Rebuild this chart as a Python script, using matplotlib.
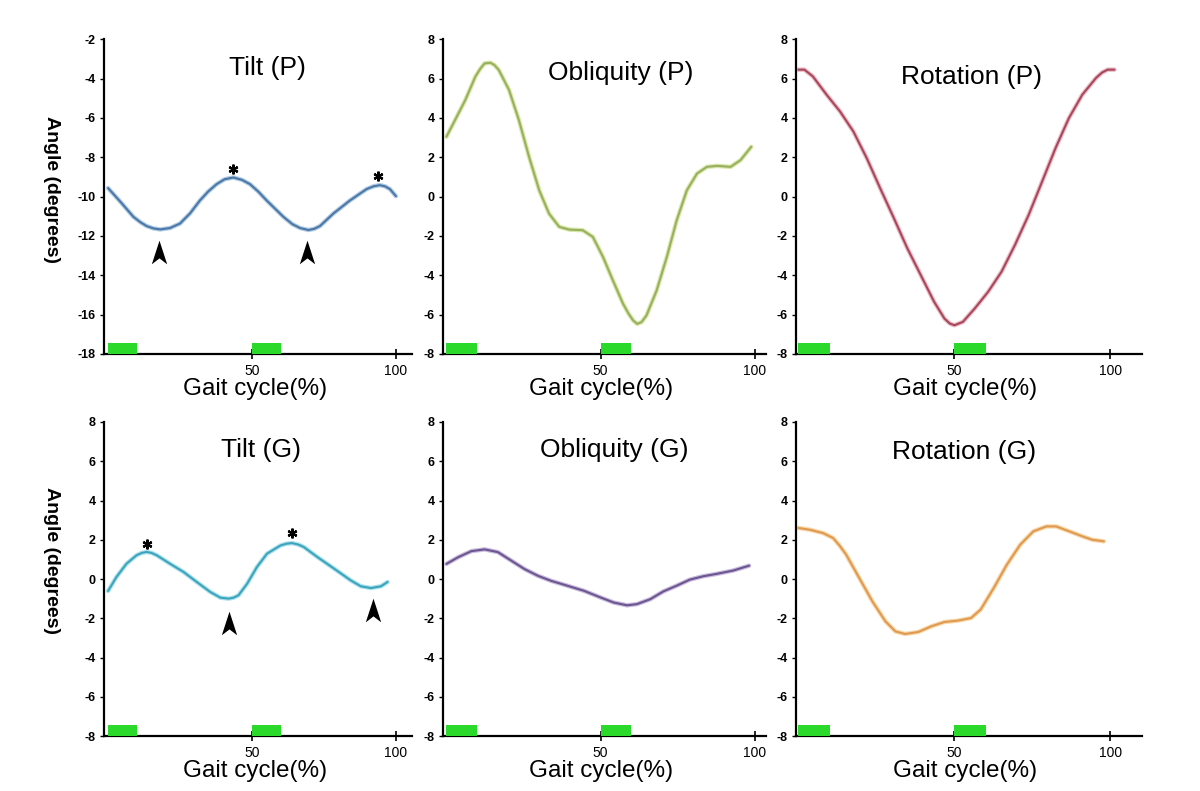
import matplotlib
matplotlib.use('Agg')
import matplotlib.pyplot as plt
from matplotlib.path import Path

plt.rcParams['font.family'] = ['Liberation Sans', 'DejaVu Sans']
plt.rcParams['axes.unicode_minus'] = False

# --- values (gait cycle %, angle in degrees) ---
tilt_p_x = [0, 4.5, 8.8, 11.2, 13.4, 15.8, 18.1, 21.5, 25, 28.5, 31.9, 34.8, 37.7, 40.5,
            43.5, 46.5, 49.3, 52.2, 55.1, 60.9, 64, 66.7, 69.6, 71.6, 73.6, 78.2, 84, 89.8,
            92.2, 94.4, 96.2, 97.9, 100]
tilt_p_y = [-9.57, -10.3, -11.03, -11.3, -11.5, -11.62, -11.67, -11.6, -11.37, -10.85, -10.2,
            -9.74, -9.37, -9.12, -9.03, -9.15, -9.37, -9.75, -10.2, -11.03, -11.4, -11.6,
            -11.7, -11.64, -11.5, -10.87, -10.2, -9.62, -9.48, -9.42, -9.48, -9.62, -9.98]

obl_p_x = [0, 2.8, 6.1, 9.4, 11, 12.4, 14.3, 15.6, 17, 20.3, 23.5, 26.8, 30.1, 33.3, 36.6,
           39.9, 44.2, 47.5, 50.8, 54, 57.3, 59.2, 60.6, 61.9, 63.3, 64.9, 68.2, 71.5, 74.7,
           78, 81.3, 84.5, 87.8, 92.2, 95.4, 98.9]
obl_p_y = [3.04, 3.89, 4.9, 6.1, 6.5, 6.77, 6.8, 6.68, 6.43, 5.42, 3.89, 2.02, 0.32, -0.87,
           -1.54, -1.68, -1.71, -2.05, -3.07, -4.26, -5.45, -5.98, -6.3, -6.47, -6.38, -6.04,
           -4.77, -3.07, -1.21, 0.32, 1.17, 1.51, 1.56, 1.51, 1.85, 2.53]

rot_p_x = [0, 1.9, 4.6, 9, 13.3, 17.6, 21.9, 26.2, 30.6, 34.9, 39.2, 43.5, 46.8, 48.5, 50,
           52.7, 56.5, 60.8, 65.1, 69.4, 73.8, 78.1, 82.4, 86.7, 91, 95.4, 97.3, 99.1, 101.3]
rot_p_y = [6.45, 6.45, 6.11, 5.18, 4.33, 3.31, 1.95, 0.42, -1.1, -2.63, -3.99, -5.35, -6.2,
           -6.45, -6.54, -6.37, -5.69, -4.84, -3.82, -2.46, -0.93, 0.76, 2.46, 3.99, 5.18,
           6.03, 6.3, 6.45, 6.45]

tilt_g_x = [0, 2.9, 6.4, 9.9, 11.7, 13.4, 15.1, 16.9, 21.5, 26.2, 30.8, 35.5, 39, 41.9, 43.6,
            45.3, 48.3, 51.7, 55.2, 59.9, 62, 63.9, 66, 68, 72.7, 78.5, 84.3, 87.8, 91.3,
            94.8, 97.1]
tilt_g_y = [-0.61, 0.1, 0.78, 1.21, 1.33, 1.38, 1.33, 1.21, 0.78, 0.36, -0.15, -0.66, -0.95,
            -1.0, -0.95, -0.83, -0.24, 0.61, 1.29, 1.71, 1.8, 1.83, 1.76, 1.63, 1.12, 0.53,
            -0.07, -0.37, -0.46, -0.37, -0.15]

obl_g_x = [0, 3.8, 8.1, 12.4, 16.7, 21, 25.3, 29.6, 33.9, 39.2, 44.6, 50, 54.3, 58.6, 61.8,
           66.1, 70.4, 74.7, 79, 83.3, 87.6, 93, 98.2]
obl_g_y = [0.77, 1.11, 1.42, 1.51, 1.37, 0.94, 0.51, 0.17, -0.09, -0.34, -0.6, -0.94, -1.2,
           -1.34, -1.28, -1.03, -0.63, -0.34, -0.03, 0.14, 0.26, 0.43, 0.68]

rot_g_x = [0, 3.7, 7.9, 11.1, 13.2, 15.3, 19.5, 23.7, 27.9, 31.1, 34.2, 38.4, 42.6, 46.8,
           51.1, 55.3, 58.4, 62.6, 66.8, 71.1, 75.3, 79.5, 82.6, 86.8, 91.1, 94.2, 97.9]
rot_g_y = [2.6, 2.51, 2.34, 2.09, 1.7, 1.24, 0.05, -1.14, -2.16, -2.67, -2.8, -2.7, -2.41,
           -2.19, -2.12, -1.99, -1.56, -0.46, 0.73, 1.75, 2.43, 2.68, 2.68, 2.43, 2.17, 2.0,
           1.92]

# peaks (*) and troughs (arrowheads) marked in the tilt panels
tilt_p_stars = [(43.5, -8.62), (93.8, -8.98)]
tilt_p_arrows = [(17.7, -12.83), (69.1, -12.83)]
tilt_g_stars = [(13.4, 1.8), (63.9, 2.34)]
tilt_g_arrows = [(41.9, -2.22), (91.9, -1.6)]

# green bars along the x axis
green_spans = [(0, 10), (50, 60)]

titles = ['Tilt (P)', 'Obliquity (P)', 'Rotation (P)', 'Tilt (G)', 'Obliquity (G)', 'Rotation (G)']
colors = [('#4a78a8', '#b4cce2'), ('#98b060', '#d8e8a8'), ('#a8485c', '#ecbcc6'),
          ('#3ea4bc', '#ace2ee'), ('#6d5590', '#c8bcde'), ('#e09a50', '#f8d8ac')]

xs = [tilt_p_x, obl_p_x, rot_p_x, tilt_g_x, obl_g_x, rot_g_x]
ys = [tilt_p_y, obl_p_y, rot_p_y, tilt_g_y, obl_g_y, rot_g_y]

# layout (figure fractions)
col_left = [0.0867, 0.3692, 0.6633]
col_width = [0.2567, 0.2692, 0.2883]
row_bottom = [0.5525, 0.0695]
row_height = [0.398, 0.397]
col_xlim = [(-1.4, 105.6), (-1.1, 103.7), (-0.8, 110.1)]
title_pos = [(0.53, 0.908), (0.551, 0.892), (0.507, 0.88), (0.51, 0.91), (0.53, 0.91), (0.487, 0.905)]

arrow_path = Path([(0, 1), (0.65, -1), (0, -0.5), (-0.65, -1), (0, 1)],
                  [Path.MOVETO, Path.LINETO, Path.LINETO, Path.LINETO, Path.CLOSEPOLY])

fig = plt.figure(figsize=(12, 7.91), dpi=100)

for i in range(6):
    r, c = divmod(i, 3)
    ax = fig.add_axes([col_left[c], row_bottom[r], col_width[c], row_height[r]])
    if i == 0:
        ymin, ymax = -18, -2
    else:
        ymin, ymax = -8, 8
    ax.set_xlim(*col_xlim[c])
    ax.set_ylim(ymin, ymax)

    core, halo = colors[i]
    ax.plot(xs[i], ys[i], color=halo, lw=3.2, solid_capstyle='round',
            solid_joinstyle='round', zorder=2)
    ax.plot(xs[i], ys[i], color=core, lw=1.5, solid_capstyle='round',
            solid_joinstyle='round', zorder=3)

    for a, b in green_spans:
        ax.bar(a, 0.55, width=b - a, bottom=ymin, align='edge', color='#2bd92b',
               edgecolor='none', zorder=4)

    for s in ['top', 'right']:
        ax.spines[s].set_visible(False)
    ax.spines['left'].set_linewidth(1.6)
    ax.spines['bottom'].set_linewidth(1.6)

    ax.set_xticks([50, 100])
    ax.set_yticks(range(ymin, ymax + 1, 2))
    ax.tick_params(axis='x', direction='inout', length=7, width=1.2, pad=4, labelsize=10)
    ax.tick_params(axis='y', direction='out', length=3, width=1, pad=3, labelsize=9)
    for lab in ax.get_yticklabels():
        lab.set_fontweight('bold')

    tx, ty = title_pos[i]
    ax.text(tx, ty, titles[i], transform=ax.transAxes, ha='center', va='center', fontsize=19)
    ax.text(0.49, -0.11, 'Gait cycle(%)', transform=ax.transAxes, ha='center', va='center',
            fontsize=17.5)

    if i == 0:
        stars, arrows = tilt_p_stars, tilt_p_arrows
    elif i == 3:
        stars, arrows = tilt_g_stars, tilt_g_arrows
    else:
        stars, arrows = [], []
    for sx, sy in stars:
        ax.plot(sx, sy, marker=(6, 2, 0), ms=7, mew=1.6, color='black', zorder=5)
    for axx, ayy in arrows:
        ax.plot(axx, ayy, marker=arrow_path, ms=17, color='black', mec='none', zorder=5)

fig.text(0.0433, 0.761, 'Angle (degrees)', rotation=270, ha='center', va='center',
         fontsize=14, fontweight='bold')
fig.text(0.0433, 0.291, 'Angle (degrees)', rotation=270, ha='center', va='center',
         fontsize=14, fontweight='bold')

fig.savefig('out.png', dpi=100)
